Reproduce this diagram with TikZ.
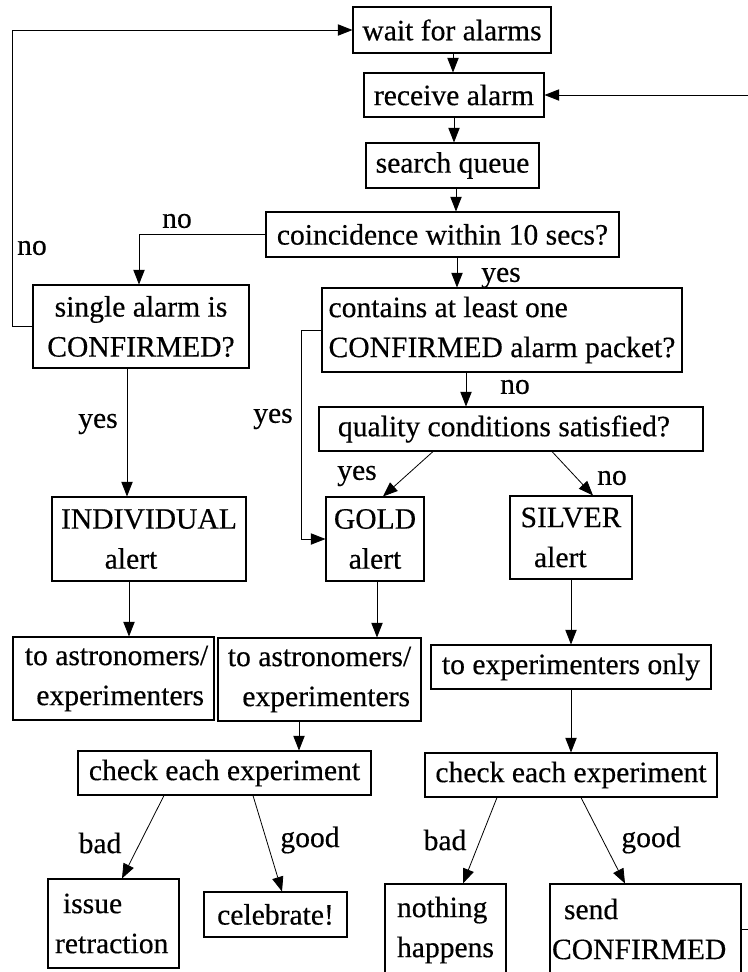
\documentclass[tikz,border=0pt]{standalone}
\usepackage{fontspec}
\setmainfont{Liberation Serif}[FakeBold=0.4]
\usetikzlibrary{arrows.meta}
\tikzset{
  every node/.style={font=\fontsize{22.2}{30}\selectfont},
  box/.style={draw, line width=0.8pt, inner sep=0pt, align=center},
  wh/.style 2 args={minimum width=#1*0.75pt, minimum height=#2*0.75pt},
  lbox/.style 2 args={draw, line width=0.8pt, align=left, inner ysep=0pt, inner xsep=#1*0.75pt, text width=#2*0.75pt},
  lbl/.style={inner sep=0pt},
  arr/.style={line width=0.6pt, -{Triangle[length=11pt,width=8.5pt]}},
  con/.style={line width=0.6pt}
}
\begin{document}
\begin{tikzpicture}[x=0.75pt,y=-0.75pt]
\useasboundingbox (0,0) rectangle (748,972);
\clip (0,0) rectangle (748,972);

% boxes
\node[box, wh={198}{46}] (wait) at (452,30) {wait for alarms};
\node[box, wh={180}{44}] (receive) at (454,95) {receive alarm};
\node[box, wh={173}{45}] (search) at (452.5,165.5) {search queue};
\node[box, wh={353}{45}] (coinc) at (442.5,234.5) {coincidence within 10 secs?};
\node[box, wh={216}{83}] (single) at (141,326.5) {single alarm is\\CONFIRMED?};
\node[box, align=left, wh={360}{84}] (contains) at (502,330) {contains at least one\\CONFIRMED alarm packet?};
\node[box, wh={384}{44}] (quality) at (511,429) {quality conditions satisfied?\hspace*{10.5pt}};
\node[box, wh={194}{84}] (indiv) at (149,539) {INDIVIDUAL\\alert\hspace*{27pt}};
\node[box, wh={98}{84}] (gold) at (375,539) {GOLD\\alert};
\node[box, wh={122}{83}] (silver) at (571,537.5) {SILVER\\alert\hspace*{16pt}};
\node[box, wh={201}{83}] (astroL) at (113.5,678.5) {\hspace*{4.5pt}to astronomers/\\\hspace*{10pt}experimenters};
\node[box, wh={203}{83}] (astroM) at (319.5,679.5) {to astronomers/\\\hspace*{10pt}experimenters};
\node[box, wh={280}{44}] (expOnly) at (571,667) {to experimenters only};
\node[box, wh={293}{44}] (checkL) at (224.5,773) {check each experiment};
\node[box, wh={292}{44}] (checkR) at (571,775) {check each experiment};
\node[lbox={7}{117}, minimum height=89*0.75pt] (issue) at (113.5,923.5) {\hspace*{6pt}issue\\retraction};
\node[box, wh={143}{45}] (celeb) at (275.5,914.5) {celebrate!};
\node[lbox={12}{97}, minimum height=92*0.75pt] (nothing) at (445.5,930) {nothing\\happens};
\node[lbox={2}{187}, minimum height=90*0.75pt] (send) at (645.5,929) {\hspace*{9pt}send\\CONFIRMED};

% labels
\node[lbl] (n1) at (177,221) {no};
\node[lbl] (n2) at (32,248) {no};
\node[lbl] (y1) at (501,278) {yes};
\node[lbl] (y2) at (273,419) {yes};
\node[lbl] (n3) at (515,387) {no};
\node[lbl] (y3) at (357,476) {yes};
\node[lbl] (n4) at (612,478) {no};
\node[lbl] (y4) at (98,424) {yes};
\node[lbl] (b1) at (100,843) {bad};
\node[lbl] (g1) at (310,840) {good};
\node[lbl] (b2) at (445,840) {bad};
\node[lbl] (g2) at (651,840) {good};

% free ends at the right edge
\coordinate (rin) at (748,95);
\coordinate (sout) at (748,929);

% connectors
\draw[arr] (single.west) -- ++(-20,0) |- (wait.west);
\draw[arr] (wait.south -| 453,0) -- (receive.north -| 453,0);
\draw[arr] (rin) -- (receive.east);
\draw[arr] (receive.south -| 454,0) -- (search.north -| 454,0);
\draw[arr] (search.south -| 456,0) -- (coinc.north -| 456,0);
\draw[arr] (coinc.west) -| (single.north -| 139,0);
\draw[arr] (coinc.south -| 457,0) -- (contains.north -| 457,0);
\draw[arr] (contains.west) -- ++(-20,0) |- (gold.west);
\draw[arr] (contains.south -| 466,0) -- (quality.north -| 466,0);
\draw[arr] (quality.south -| 433,0) -- (gold.north -| 383,0);
\draw[arr] (quality.south -| 552,0) -- (silver.north -| 593,0);
\draw[arr] (single.south -| 127,0) -- (indiv.north -| 127,0);
\draw[arr] (indiv.south -| 129,0) -- (astroL.north -| 129,0);
\draw[arr] (gold.south -| 377,0) -- (astroM.north -| 377,0);
\draw[arr] (silver.south -| 571,0) -- (expOnly.north -| 571,0);
\draw[arr] (astroM.south -| 299,0) -- (checkL.north -| 299,0);
\draw[arr] (expOnly.south -| 571,0) -- (checkR.north -| 571,0);
\draw[arr] (checkL.south -| 164,0) -- (issue.north -| 122,0);
\draw[arr] (checkL.south -| 253,0) -- (celeb.north -| 282,0);
\draw[arr] (checkR.south -| 497,0) -- (nothing.north -| 463,0);
\draw[arr] (checkR.south -| 581,0) -- (send.north -| 625,0);
\draw[con] (send.east |- sout) -- (sout);
\end{tikzpicture}
\end{document}
